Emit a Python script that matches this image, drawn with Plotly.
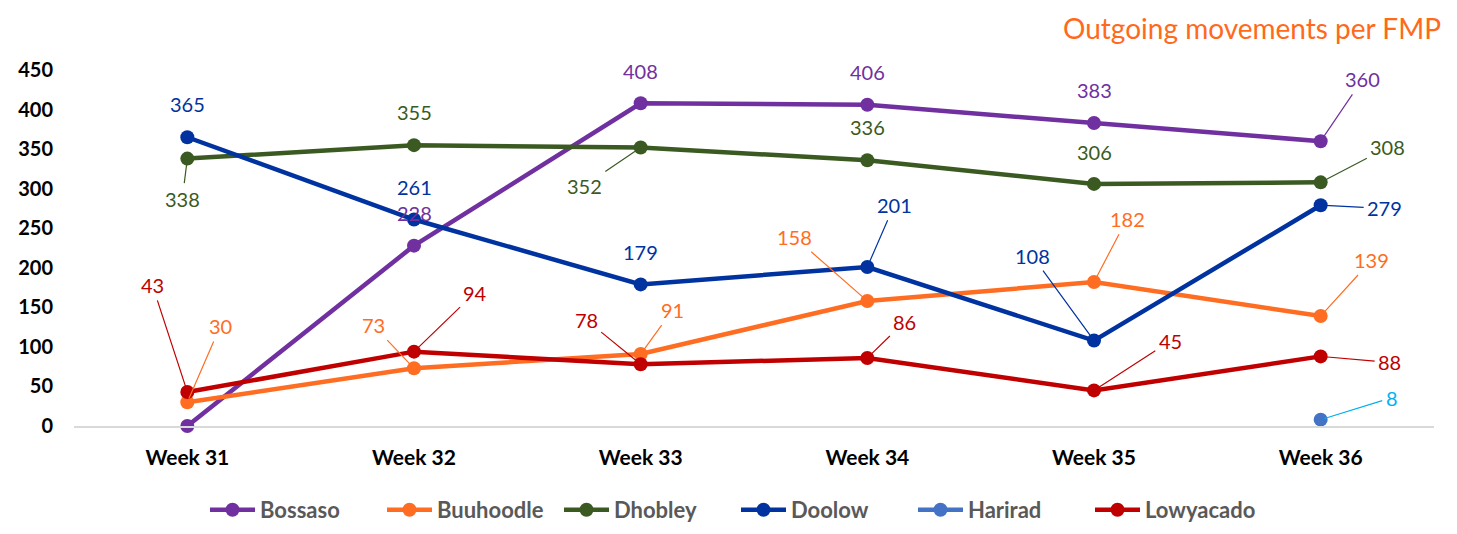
import plotly.graph_objects as go

weeks = ["Week 31", "Week 32", "Week 33", "Week 34", "Week 35", "Week 36"]
bossaso = [0, 228, 408, 406, 383, 360]
buuhoodle = [30, 73, 91, 158, 182, 139]
dhobley = [338, 355, 352, 336, 306, 308]
doolow = [365, 261, 179, 201, 108, 279]
harirad = [None, None, None, None, None, 8]
lowyacado = [43, 94, 78, 86, 45, 88]

series = [
    ("Bossaso", bossaso, "#7030A0", "#7030A0"),
    ("Buuhoodle", buuhoodle, "#FF6D22", "#FF6D22"),
    ("Dhobley", dhobley, "#3A5A22", "#3A5A22"),
    ("Doolow", doolow, "#0033A0", "#0033A0"),
    ("Harirad", harirad, "#4472C4", "#00B0F0"),
    ("Lowyacado", lowyacado, "#C00000", "#C00000"),
]

# label pixel offsets (dx, dy, leader line?) per series per point
offsets = {
    "Bossaso": [None, (0, -33, False), (0, -32, False), (0, -33, False), (0, -33, False), (42, -62, True)],
    "Buuhoodle": [(33, -76, True), (-41, -43, True), (32, -44, True), (-73, -64, True), (33, -63, True), (51, -56, True)],
    "Dhobley": [(-5, 40, True), (0, -33, False), (-56, 38, True), (0, -33, False), (0, -32, False), (67, -35, True)],
    "Doolow": [(0, -33, False), (0, -33, False), (0, -32, False), (27, -62, True), (-62, -85, True), (64, 3, True)],
    "Harirad": [None, None, None, None, None, (71, -22, True)],
    "Lowyacado": [(-35, -107, True), (61, -59, True), (-54, -44, True), (37, -36, True), (76, -49, True), (69, 6, True)],
}

FONT = "Lato, Open Sans, sans-serif"
W, H = 1457, 534
ML, MR, MT, MB = 74, 23, 70, 108
pw = W - ML - MR
ph = H - MT - MB

fig = go.Figure()
annotations = []
for name, vals, col, lcol in series:
    fig.add_trace(go.Scatter(
        x=weeks, y=vals, name=name, mode="lines+markers",
        line=dict(color=col, width=4.5),
        marker=dict(color=col, size=14),
        cliponaxis=False,
    ))
    for i, v in enumerate(vals):
        off = offsets[name][i]
        if v is None or off is None:
            continue
        dx, dy, ln = off
        annotations.append(dict(
            x=weeks[i], y=v, xref="x", yref="y", text=str(v),
            showarrow=True, ax=dx, ay=dy, axref="pixel", ayref="pixel",
            arrowhead=0, arrowwidth=1.2,
            arrowcolor=lcol if ln else "rgba(0,0,0,0)",
            standoff=4, startstandoff=2,
            font=dict(family=FONT, size=20, color=lcol),
        ))

annotations.append(dict(
    x=(1443 - ML) / pw, xref="paper", y=(H - MB - 28) / ph, yref="paper",
    xanchor="right", yanchor="middle",
    text="Outgoing movements per FMP", showarrow=False,
    font=dict(family=FONT, size=28, color="#FF6A1A"),
))

fig.update_layout(
    width=W, height=H,
    margin=dict(l=ML, r=MR, t=MT, b=MB, autoexpand=False),
    paper_bgcolor="white", plot_bgcolor="white",
    showlegend=True,
    legend=dict(orientation="h", xref="container", yref="container",
                x=205 / W, xanchor="left", y=1 - 510 / H, yanchor="middle",
                font=dict(family=FONT, size=22, color="#595959", weight="bold"),
                itemwidth=45, entrywidth=117, entrywidthmode="pixels", tracegroupgap=0),
    annotations=annotations,
    xaxis=dict(range=[-0.5, 5.5], showgrid=False, showline=True, linecolor="#D9D9D9", linewidth=1.5,
               ticks="", tickfont=dict(family=FONT, size=21, color="black", weight="bold"),
               ticklabelstandoff=12, zeroline=False),
    yaxis=dict(range=[0, 450], dtick=50, showgrid=False, showline=False, zeroline=False,
               tickfont=dict(family=FONT, size=20, color="black", weight="bold"),
               ticklabelstandoff=20),
)

fig.write_html("out.html", config={"displayModeBar": False},
               post_script="document.body.style.margin='0';")
